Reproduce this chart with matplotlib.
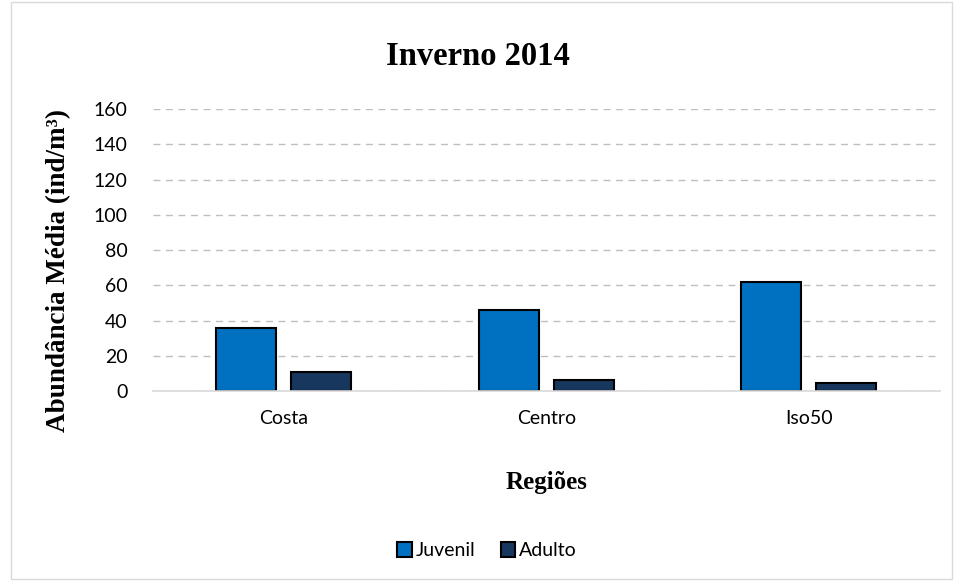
import numpy as np
import matplotlib
matplotlib.use("Agg")
import matplotlib.pyplot as plt
from matplotlib.patches import Rectangle

regioes = ["Costa", "Centro", "Iso50"]
juvenil = [35.5, 45.8, 62.0]
adulto = [10.8, 6.0, 4.6]
yticks = [0, 20, 40, 60, 80, 100, 120, 140, 160]

fig = plt.figure(figsize=(9.55, 5.81), dpi=100)
ax = fig.add_axes([0.160, 0.327, 0.824, 0.485])

x = np.arange(len(regioes))
w = 0.229
off = 0.143
ax.bar(x - off, juvenil, w, color="#0070C0", edgecolor="black", linewidth=1.5,
       label="Juvenil", zorder=3)
ax.bar(x + off, adulto, w, color="#17375E", edgecolor="black", linewidth=1.5,
       label="Adulto", zorder=3)

ax.set_xlim(-0.5, len(regioes) - 0.5)
ax.set_ylim(0, 160)
ax.set_yticks(yticks)
ax.set_xticks(x)
ax.set_xticklabels(regioes, fontsize=14, family="Lato")
ax.set_yticklabels([str(t) for t in yticks], fontsize=14, family="Lato")
ax.tick_params(length=0)
ax.tick_params(axis="y", pad=18)
ax.tick_params(axis="x", pad=14)
ax.yaxis.grid(True, color="#BFBFBF", linestyle=(0, (5, 4)), linewidth=1)
ax.set_axisbelow(True)
for s in ["top", "right", "left"]:
    ax.spines[s].set_visible(False)
ax.spines["bottom"].set_color("#D9D9D9")
ax.spines["bottom"].set_linewidth(1.2)
ax.spines["bottom"].set_zorder(4)

fig.text(0.5, 0.902, "Inverno 2014", ha="center", va="center",
         family="Liberation Serif", fontweight="bold", fontsize=23.5)
fig.text(0.061, 0.535, "Abundância Média (ind/m³)", ha="center", va="center",
         rotation=90, family="Liberation Serif", fontweight="bold", fontsize=19.5)
fig.text(0.572, 0.169, "Regiões", ha="center", va="center",
         family="Liberation Serif", fontweight="bold", fontsize=18)

leg = fig.legend(loc="center", bbox_to_anchor=(0.51, 0.052), ncol=2, frameon=False,
                 prop={"family": "Lato", "size": 14}, handlelength=0.75,
                 handleheight=0.75, handletextpad=0.2, columnspacing=1.3)

fig.patches.append(Rectangle((0.011, 0.003), 0.986, 0.994, transform=fig.transFigure,
                             fill=False, edgecolor="#D9D9D9", linewidth=1))

fig.savefig("out.png", dpi=100)
